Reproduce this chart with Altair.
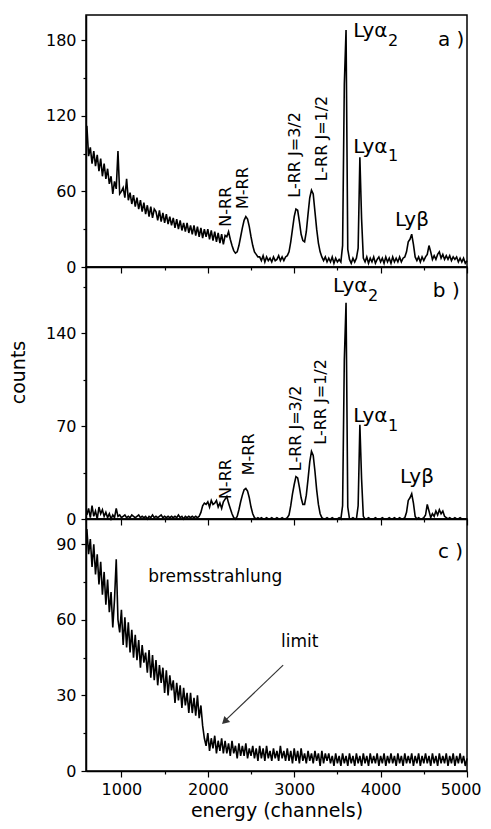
import altair as alt
import pandas as pd

# ---------------- data ----------------
energy = list(range(600, 5001, 20))  # channel grid, 20-channel steps

counts_a = [
    112, 88, 95, 82, 92, 80, 89, 76, 86, 72,
    82, 70, 78, 66, 72, 58, 68, 62, 92, 58,
    60, 63, 55, 70, 53, 59, 50, 57, 48, 55,
    46, 53, 44, 51, 42, 49, 40, 48, 39, 46,
    44, 37, 45, 36, 43, 35, 42, 34, 40, 33,
    39, 31, 38, 30, 37, 29, 35, 28, 35, 27,
    33, 26, 33, 25, 32, 24, 31, 23, 30, 24,
    30, 22, 29, 21, 28, 20, 27, 19, 26, 18,
    25, 24, 28, 22, 17, 13, 11, 12, 17, 24,
    31, 37, 40, 38, 32, 24, 17, 12, 10, 8,
    8, 5, 9, 4, 8, 5, 7, 4, 8, 5,
    6, 9, 5, 8, 5, 8, 9, 12, 20, 30,
    40, 46, 45, 36, 26, 21, 20, 28, 42, 55,
    61, 58, 44, 30, 19, 12, 8, 5, 8, 4,
    7, 4, 8, 3, 7, 4, 6, 4, 17, 145,
    188, 14, 6, 3, 7, 4, 7, 15, 87, 38,
    7, 4, 8, 3, 7, 4, 8, 3, 6, 8,
    4, 7, 3, 8, 4, 7, 3, 8, 4, 7,
    4, 8, 4, 7, 8, 12, 20, 22, 26, 18,
    8, 5, 8, 4, 8, 5, 8, 10, 17, 12,
    6, 9, 6, 10, 12, 7, 10, 6, 9, 6,
    9, 5, 8, 6, 8, 4, 7, 4, 7, 3,
    5,
]

counts_b = [
    3, 8, 1, 10, 2, 6, 0, 9, 4, 7,
    2, 5, 1, 4, 0, 3, 1, 8, 2, 3,
    1, 2, 3, 1, 2, 1, 3, 2, 1, 2,
    3, 1, 2, 1, 2, 0, 2, 1, 3, 1,
    2, 1, 2, 3, 1, 2, 1, 2, 1, 2,
    1, 2, 1, 3, 1, 2, 0, 2, 1, 2,
    1, 2, 1, 2, 1, 2, 5, 10, 12, 11,
    13, 9, 14, 11, 12, 14, 9, 12, 8, 13,
    15, 17, 12, 8, 4, 1, 0, 2, 7, 13,
    18, 22, 23, 21, 16, 9, 4, 1, 0, 1,
    0, 1, 0, 0, 1, 0, 0, 1, 0, 0,
    1, 0, 0, 1, 0, 0, 1, 3, 10, 19,
    26, 32, 31, 24, 16, 11, 11, 18, 30, 43,
    51, 48, 36, 22, 11, 4, 1, 0, 0, 1,
    0, 0, 1, 0, 0, 0, 1, 0, 10, 120,
    163, 9, 0, 0, 1, 0, 0, 10, 71, 30,
    2, 0, 0, 1, 0, 0, 0, 1, 0, 0,
    0, 1, 0, 0, 0, 1, 0, 0, 1, 0,
    0, 1, 0, 0, 1, 5, 14, 16, 19, 12,
    2, 0, 1, 0, 0, 1, 3, 11, 6, 1,
    4, 2, 6, 3, 7, 4, 6, 2, 1, 0,
    1, 0, 0, 1, 0, 0, 1, 0, 0, 0,
    0,
]

counts_c = [
    96, 86, 92, 81, 90, 78, 86, 74, 83, 70,
    79, 66, 76, 63, 71, 57, 68, 84, 60, 55,
    64, 50, 61, 49, 59, 47, 56, 45, 54, 44,
    52, 41, 50, 43, 47, 39, 48, 37, 46, 36,
    44, 34, 42, 35, 41, 31, 40, 30, 38, 32,
    36, 27, 35, 28, 34, 25, 33, 26, 31, 23,
    31, 23, 29, 22, 30, 21, 26, 18, 13, 10,
    15, 8, 13, 9, 14, 7, 12, 8, 13, 7,
    12, 7, 11, 6, 12, 7, 10, 5, 11, 6,
    10, 6, 11, 5, 9, 6, 10, 5, 9, 4,
    10, 5, 9, 4, 10, 5, 8, 4, 9, 5,
    8, 4, 10, 5, 8, 4, 9, 4, 8, 3,
    9, 4, 8, 3, 9, 4, 7, 3, 8, 4,
    7, 3, 8, 4, 7, 2, 8, 3, 7, 4,
    7, 3, 6, 2, 7, 3, 6, 2, 7, 3,
    6, 2, 7, 3, 6, 2, 7, 3, 6, 2,
    7, 3, 6, 2, 7, 3, 6, 3, 7, 2,
    6, 3, 7, 2, 6, 3, 7, 3, 6, 2,
    7, 3, 6, 2, 7, 3, 6, 3, 7, 2,
    6, 3, 7, 2, 6, 3, 7, 3, 6, 2,
    7, 3, 6, 2, 7, 3, 6, 3, 7, 2,
    6, 3, 7, 2, 6, 3, 7, 3, 6, 2,
    5,
]

x_ticks = list(range(1000, 5001, 500))
y_ticks_a = [0, 30, 60, 90, 120, 150, 180]
y_ticks_b = [0, 35, 70, 105, 140, 175]
y_ticks_c = [0, 15, 30, 45, 60, 75, 90]

# annotation texts
vert_a = {"energy": [2215, 2410, 3005, 3322], "counts": [32, 46, 55, 68],
          "label": ["N-RR", "M-RR", "L-RR J=3/2", "L-RR J=1/2"]}
vert_b = {"energy": [2215, 2480, 3015, 3305], "counts": [15, 33, 36, 56],
          "label": ["N-RR", "M-RR", "L-RR J=3/2", "L-RR J=1/2"]}
horiz_a = {"energy": [3683, 3683, 4167], "counts": [187, 95, 37], "label": ["Lyα", "Lyα", "Lyβ"]}
horiz_b = {"energy": [3450, 3683, 4225], "counts": [176, 78, 32], "label": ["Lyα", "Lyα", "Lyβ"]}
subs_a = {"energy": [4085, 4085], "counts": [179, 88], "label": ["2", "1"]}
subs_b = {"energy": [3854, 4085], "counts": [168, 70], "label": ["2", "1"]}
letter_a = {"energy": [4663], "counts": [180], "label": ["a )"]}
letter_b = {"energy": [4605], "counts": [172], "label": ["b )"]}
letter_c = {"energy": [4663], "counts": [87], "label": ["c )"]}
text_c = {"energy": [1310, 2847], "counts": [77, 51], "label": ["bremsstrahlung", "limit"]}
arrow_c = {"energy": [2872], "counts": [42], "energy2": [2215], "counts2": [20.5]}
arrow_head_c = {"energy": [2205], "counts": [20]}

# ---------------- chart ----------------
FONT = "DejaVu Sans"
W, H = 381, 252
XDOM = [590, 5000]


def x_axis(show_labels):
    kw = dict(
        values=x_ticks,
        format="d",
        tickSize={"condition": {"test": "datum.value % 1000 === 0", "value": 6}, "value": 3},
        labelOverlap=False,
        labelPadding=4,
    )
    if show_labels:
        return alt.Axis(labelExpr="datum.value % 1000 === 0 ? datum.label : ''",
                        labelFlush=True, labelFlushOffset=14,
                        title="energy (channels)", titlePadding=4, **kw)
    return alt.Axis(labels=False, title=None, **kw)


def y_axis(ticks, major, title=None):
    kw = dict(
        values=ticks,
        tickSize={"condition": {"test": f"datum.value % {major} === 0", "value": 5}, "value": 3},
        labelExpr=f"datum.value % {major} === 0 ? datum.label : ''",
        labelOverlap=False,
        labelPadding=5,
    )
    if title:
        return alt.Axis(title=title, titlePadding=17, titleY=105, **kw)
    return alt.Axis(title=None, **kw)


def text_layer(d, size, angle=0):
    return alt.Chart(pd.DataFrame(d)).mark_text(
        font=FONT, fontSize=size, angle=angle, align="left", baseline="middle", color="black"
    ).encode(x="energy:Q", y="counts:Q", text="label:N")


def panel(counts, ydom, yticks, major, bottom=False, ytitle=None):
    df = pd.DataFrame({"energy": energy, "counts": counts})
    return alt.Chart(df).mark_line(color="black", strokeWidth=1.6).encode(
        x=alt.X("energy:Q", scale=alt.Scale(domain=XDOM, nice=False, zero=False), axis=x_axis(bottom)),
        y=alt.Y("counts:Q", scale=alt.Scale(domain=ydom, nice=False), axis=y_axis(yticks, major, ytitle)),
    )


pa = alt.layer(
    panel(counts_a, [0, 200], y_ticks_a, 60),
    text_layer(vert_a, 16, 270),
    text_layer(horiz_a, 20),
    text_layer(subs_a, 16),
    text_layer(letter_a, 20),
).properties(width=W, height=H)

pb = alt.layer(
    panel(counts_b, [0, 190], y_ticks_b, 70, ytitle="counts"),
    text_layer(vert_b, 16, 270),
    text_layer(horiz_b, 20),
    text_layer(subs_b, 16),
    text_layer(letter_b, 20),
).properties(width=W, height=H)

arrow = alt.Chart(pd.DataFrame(arrow_c)).mark_rule(color="#333333", strokeWidth=1.2).encode(
    x="energy:Q", y="counts:Q", x2="energy2:Q", y2="counts2:Q"
)
head = alt.Chart(pd.DataFrame(arrow_head_c)).mark_point(
    shape="triangle", filled=True, color="#333333", size=70, angle=226, opacity=1
).encode(x="energy:Q", y="counts:Q")

pc = alt.layer(
    panel(counts_c, [0, 100], y_ticks_c, 30, bottom=True),
    arrow,
    head,
    text_layer(text_c, 17),
    text_layer(letter_c, 20),
).properties(width=W, height=H)

chart = alt.vconcat(pa, pb, pc, spacing=0, bounds="flush").properties(
    padding={"left": 0, "top": 6, "right": 0, "bottom": 0}
).configure_axis(
    labelFont=FONT, labelFontSize=16, labelColor="black",
    titleFont=FONT, titleFontSize=19, titleFontWeight="normal", titleColor="black",
    domainColor="black", domainWidth=1.5, tickColor="black", tickWidth=1.2, grid=False,
).configure_view(stroke="black", strokeWidth=1.5)

chart.save("out.html", embed_options={"renderer": "svg", "actions": False})
